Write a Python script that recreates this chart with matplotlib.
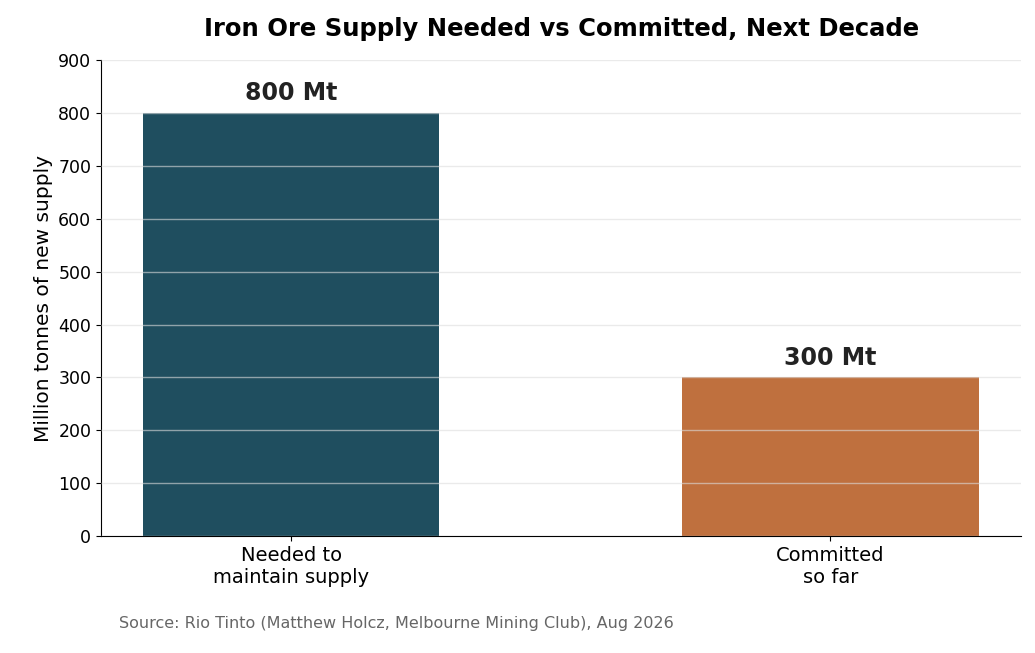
import matplotlib
matplotlib.use("Agg")
import matplotlib.pyplot as plt

categories = ["Needed to\nmaintain supply", "Committed\nso far"]
values = [800, 300]
labels = ["800 Mt", "300 Mt"]
colors = ["#1F4E5F", "#BF703E"]

fig = plt.figure(figsize=(10.35, 6.53), dpi=100)
ax = fig.add_axes([0.0976, 0.179, 0.889, 0.729])
x = list(range(len(categories)))
ax.bar(x, values, width=0.55, color=colors, zorder=2)
ax.set_axisbelow(False)
ax.yaxis.grid(True, color="#DDDDDD", alpha=0.6, linewidth=1, zorder=3)
for xi, v, l in zip(x, values, labels):
    ax.text(xi, v + 15, l, ha="center", va="bottom", fontsize=17, fontweight="bold", color="#222222")
ax.set_xticks(x)
ax.set_xticklabels(categories, fontsize=14)
ax.set_xlim(-0.3525, 1.354)
ax.set_ylim(0, 900)
ax.set_yticks(range(0, 901, 100))
ax.tick_params(axis="y", labelsize=12.5)
ax.set_ylabel("Million tonnes of new supply", fontsize=14.5)
ax.spines["top"].set_visible(False)
ax.spines["right"].set_visible(False)
ax.set_title("Iron Ore Supply Needed vs Committed, Next Decade", fontsize=17.5, fontweight="bold", pad=17)
fig.text(0.115, 0.038, "Source: Rio Tinto (Matthew Holcz, Melbourne Mining Club), Aug 2026", fontsize=11.5, color="#666666")
fig.savefig("out.png", dpi=100)
